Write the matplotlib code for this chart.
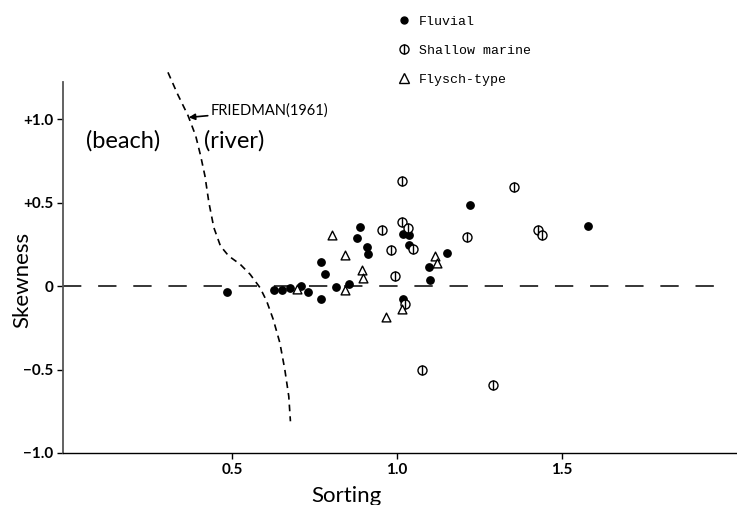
import matplotlib
matplotlib.use("Agg")
import matplotlib.pyplot as plt
from matplotlib.lines import Line2D

# ---- data (Sorting, Skewness) ----
fluvial_x = [0.484, 0.628, 0.650, 0.677, 0.709, 0.730, 0.769, 0.782, 0.769, 0.814, 0.854,
             0.880, 0.888, 0.908, 0.912, 1.017, 1.037, 1.036, 1.017, 1.098, 1.099, 1.151,
             1.221, 1.579]
fluvial_y = [-0.034, -0.026, -0.026, -0.010, 0.000, -0.034, 0.145, 0.074, -0.080, -0.004, 0.010,
             0.285, 0.351, 0.235, 0.190, 0.311, 0.307, 0.245, -0.076, 0.114, 0.034, 0.200,
             0.484, 0.359]

marine_x = [0.955, 0.983, 0.994, 1.014, 1.016, 1.034, 1.047, 1.023, 1.075, 1.211, 1.290,
            1.355, 1.426, 1.440]
marine_y = [0.337, 0.215, 0.058, 0.386, 0.630, 0.345, 0.219, -0.110, -0.500, 0.291, -0.590,
            0.592, 0.337, 0.303]

flysch_x = [0.696, 0.802, 0.842, 0.842, 0.895, 0.898, 0.967, 1.014, 1.116, 1.120]
flysch_y = [-0.016, 0.307, 0.187, -0.024, 0.095, 0.046, -0.183, -0.137, 0.182, 0.139]

# Friedman (1961) beach / river boundary
friedman_x = [0.306, 0.335, 0.367, 0.390, 0.405, 0.418, 0.430, 0.445, 0.465, 0.490, 0.525,
              0.555, 0.585, 0.605, 0.625, 0.645, 0.660, 0.672, 0.677]
friedman_y = [1.28, 1.15, 1.02, 0.90, 0.78, 0.66, 0.50, 0.35, 0.24, 0.18, 0.13,
              0.07, -0.01, -0.09, -0.20, -0.34, -0.50, -0.66, -0.81]

x_ticks = [0.5, 1.0, 1.5]
x_ticklabels = ["0.5", "1.0", "1.5"]
y_ticks = [-1.0, -0.5, 0.0, 0.5, 1.0]
y_ticklabels = ["\u22121.0", "\u22120.5", "0", "+0.5", "+1.0"]

plt.rcParams["font.family"] = ["Lato", "DejaVu Sans"]

fig = plt.figure(figsize=(7.37, 5.05), dpi=100)
ax = fig.add_axes([63 / 737, 1 - 453 / 505, 1 - 63 / 737, (453 - 69) / 505])

ax.set_xlim(-0.012, 2.03)
ax.set_ylim(-1.0, 1.3)
for s in ["top", "right"]:
    ax.spines[s].set_visible(False)
ax.spines["left"].set_bounds(-1.0, 1.22)
ax.spines["left"].set_color("#555555")
ax.spines["left"].set_linewidth(1.3)
ax.spines["bottom"].set_linewidth(1.0)

ax.set_xticks(x_ticks)
ax.set_xticklabels(x_ticklabels, fontsize=11, fontweight="bold")
ax.set_yticks(y_ticks)
ax.set_yticklabels(y_ticklabels, fontsize=11, fontweight="bold")
ax.tick_params(axis="both", length=4, width=1, pad=3)

# zero line
ax.axhline(0, xmin=0, xmax=0.97, color="black", lw=1.1, dashes=(12, 11), zorder=1)

# Friedman curve
ax.plot(friedman_x, friedman_y, color="black", lw=1.2, dashes=(4, 3), clip_on=False, zorder=2)

# data points
ax.scatter(fluvial_x, fluvial_y, s=28, c="black", marker="o", zorder=3)
ax.scatter(marine_x, marine_y, s=42, facecolors="white", edgecolors="black",
           linewidths=1.0, marker="o", zorder=3)
ax.scatter(marine_x, marine_y, s=42, c="black", marker="|", linewidths=1.0, zorder=4)
ax.scatter(flysch_x, flysch_y, s=40, facecolors="white", edgecolors="black",
           linewidths=1.0, marker="^", zorder=3)

# region labels
ax.text(0.058, 0.87, "(beach)", fontsize=17, va="center", ha="left")
ax.text(0.415, 0.87, "(river)", fontsize=17, va="center", ha="left")
ax.annotate("FRIEDMAN(1961)", xy=(0.369, 1.01), xytext=(0.435, 1.054),
            fontsize=10.5, va="center", ha="left",
            arrowprops=dict(arrowstyle="-|>", color="black", lw=1.2,
                            mutation_scale=9, shrinkA=0, shrinkB=0))

ax.set_xlabel("Sorting", fontsize=16)
ax.xaxis.set_label_coords(0.42, -0.085)
ax.set_ylabel("Skewness", fontsize=16)
ax.yaxis.set_label_coords(-0.046, 0.45)

# legend
h_fluv = Line2D([], [], ls="none", marker="o", ms=5, color="black")
h_mar1 = Line2D([], [], ls="none", marker="o", ms=6.5, mfc="white", mec="black", mew=1)
h_mar2 = Line2D([], [], ls="none", marker="|", ms=6.5, color="black", mew=1)
h_fly = Line2D([], [], ls="none", marker="^", ms=6.5, mfc="white", mec="black", mew=1)
leg = fig.legend([h_fluv, (h_mar1, h_mar2), h_fly], ["Fluvial", "Shallow marine", "Flysch-type"],
                 loc="upper left", bbox_to_anchor=(386 / 737, 1 - 4 / 505), frameon=False,
                 handlelength=1.0, handletextpad=0.6, labelspacing=1.25,
                 prop={"family": "Liberation Mono", "size": 9.5})

fig.savefig("out.png", dpi=100)
